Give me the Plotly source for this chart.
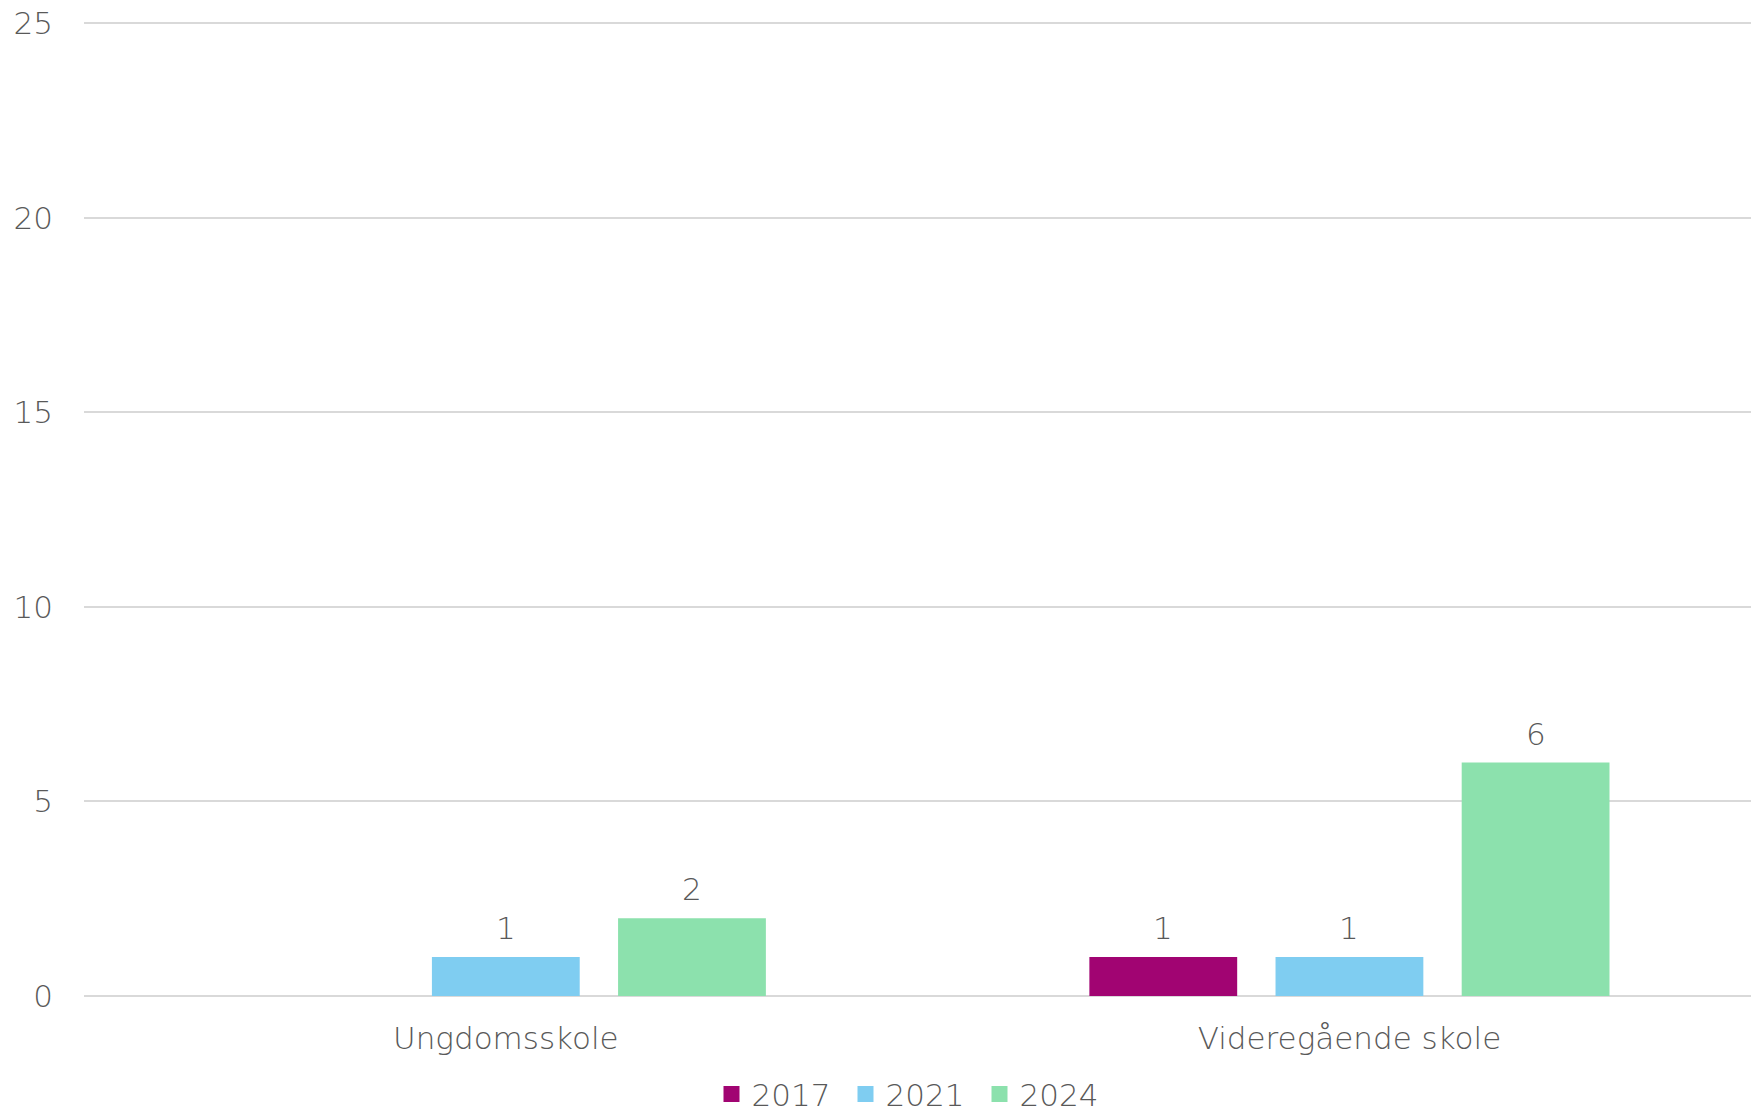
import plotly.graph_objects as go

# Data
categories = ["Ungdomsskole", "Videregående skole"]
years = ["2017", "2021", "2024"]
values_2017 = [None, 1]
values_2021 = [1, 1]
values_2024 = [2, 6]
y_ticks = [0, 5, 10, 15, 20, 25]

series = [values_2017, values_2021, values_2024]
colors = ["#A10472", "#7FCDF1", "#8CE1AD"]

FONT = "DejaVu Sans"
TEXT_COLOR = "#595959"
GRID_COLOR = "#D9D9D9"
FONT_SIZE = 31

BARGAP = 0.338
BARGROUPGAP = 0.206

fig = go.Figure()

for name, vals, col in zip(years, series, colors):
    fig.add_trace(go.Bar(
        x=categories, y=vals, name=name,
        marker=dict(color=col, line=dict(width=0)),
        showlegend=False,
    ))
    # legend entry with a larger square swatch
    fig.add_trace(go.Scatter(
        x=[None], y=[None], mode="markers", name=name,
        marker=dict(symbol="square", size=17, color=col),
        showlegend=True,
    ))

text_font = dict(family=FONT, size=FONT_SIZE, color=TEXT_COLOR, weight=200)

# value labels above each bar
slot = (1 - BARGAP) / len(series)
annotations = []
for i, vals in enumerate(series):
    offset = (i - (len(series) - 1) / 2) * slot
    for j, v in enumerate(vals):
        if v is None:
            continue
        annotations.append(dict(
            x=j + offset, y=v, xref="x", yref="y",
            text=str(v), showarrow=False,
            yanchor="bottom", yshift=9,
            font=text_font,
        ))

fig.update_layout(
    width=1751, height=1117,
    margin=dict(l=84, r=0, t=22, b=121, autoexpand=False),
    paper_bgcolor="white", plot_bgcolor="white",
    barmode="group", bargap=BARGAP, bargroupgap=BARGROUPGAP,
    font=text_font,
    annotations=annotations,
    legend=dict(
        orientation="h", x=0.497, xanchor="center",
        y=-0.101, yanchor="middle",
        font=text_font, entrywidth=89,
        itemclick=False, traceorder="normal",
    ),
    xaxis=dict(
        type="category", range=[-0.5, 1.476],
        showgrid=False, zeroline=False, showline=False,
        ticks="", ticklabelstandoff=21,
        tickfont=text_font,
        fixedrange=True,
    ),
    yaxis=dict(
        range=[0, 25.03], tickvals=y_ticks,
        showgrid=True, gridcolor=GRID_COLOR, gridwidth=2,
        zeroline=True, zerolinecolor=GRID_COLOR, zerolinewidth=2,
        showline=False, ticks="", ticklabelstandoff=30,
        tickfont=text_font,
        fixedrange=True,
    ),
)

fig.write_html("out.html", config={"displayModeBar": False})
